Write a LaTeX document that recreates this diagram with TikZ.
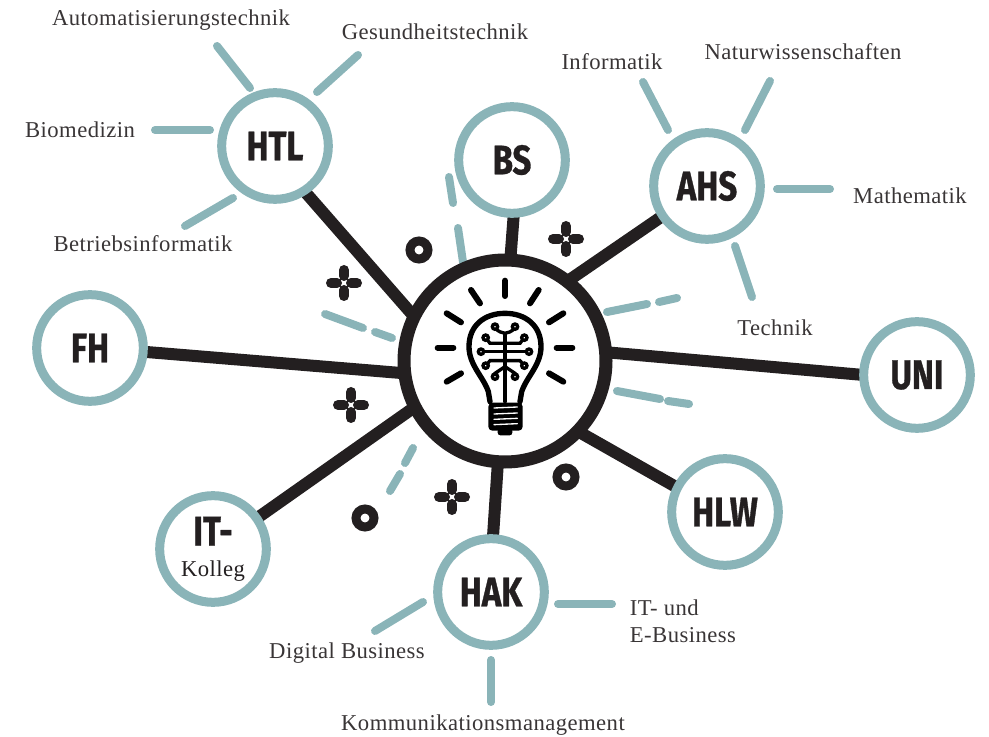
\documentclass[tikz,border=0pt]{standalone}
\usepackage{fontspec}
\setmainfont[LetterSpace=2]{Liberation Serif}
\newfontfamily\hubfont[FakeStretch=0.8,FakeBold=0.8]{Fira Sans}
\usetikzlibrary{backgrounds, positioning}
\definecolor{petrol}{RGB}{138,180,184}
\definecolor{ink}{RGB}{35,31,32}
\tikzstyle{hub} = [circle, minimum size = 80pt, inner sep = 0pt, outer sep = 0pt, draw = petrol, line width = 6.75pt, fill = white, text = ink, font = \hubfont\fontsize{31}{31}\selectfont\bfseries, align = center]
\tikzstyle{core} = [circle, minimum size = 151.5pt, inner sep = 0pt, outer sep = 0pt, draw = ink, line width = 9.75pt, fill = white]
\tikzstyle{lab} = [text = ink!90, inner sep = 0pt, font = \fontsize{17}{20}\selectfont, align = left]
\tikzstyle{ray} = [petrol, line width = 6pt, line cap = round]
\tikzstyle{spoke} = [ink, line width = 9pt]
\tikzstyle{ring} = [circle, minimum size = 13.5pt, inner sep = 0pt, draw = ink, line width = 6.75pt]
\tikzset{clover/.pic = {
  \draw[ink, line width = 7.5pt, line cap = round] (-13,0) -- (-7,0) (13,0) -- (7,0) (0,-13) -- (0,-7) (0,13) -- (0,7);
}}

\begin{document}
\begin{tikzpicture}[x = 0.75pt, y = -0.75pt]
\useasboundingbox (0,0) rectangle (989,737);

% hubs
\node (bulb) [core] at (505,361) {};
\node (htl) [hub] at (275,146) {HTL};
\node (bs)  [hub] at (512,160) {BS};
\node (ahs) [hub] at (707,186) {AHS};
\node (fh)  [hub] at (90,348)  {FH};
\node (uni) [hub] at (917,375) {UNI};
\node (hlw) [hub] at (725,512) {HLW};
\node (hak) [hub] at (491,592) {HAK};
\node (it)  [hub] at (213,549) {IT-\\[-8pt]{\rmfamily\mdseries\fontsize{17}{17}\selectfont Kolleg}};

% labels
\node (auto) [lab] at (171,20)  {Automatisierungstechnik};
\node (ges)  [lab] at (435,32)  {Gesundheitstechnik};
\node (bio)  [lab] at (80,130)  {Biomedizin};
\node (bet)  [lab] at (143,244) {Betriebsinformatik};
\node (inf)  [lab] at (612,62)  {Informatik};
\node (nat)  [lab] at (803,52)  {Naturwissenschaften};
\node (mat)  [lab] at (910,196) {Mathematik};
\node (tec)  [lab] at (775,328) {Technik};
\node (ebu)  [lab] at (683,621) {IT- und\\E-Business};
\node (dig)  [lab] at (347,653) {Digital Business};
\node (kom)  [lab] at (483,725) {Kommunikationsmanagement};

% decoration
\node (ring1) [ring] at (419,250) {};
\node (ring2) [ring] at (566,477) {};
\node (ring3) [ring] at (365,518) {};
\pic at (344,283) {clover};
\pic at (351,405) {clover};
\pic at (452,497) {clover};
\pic at (566,239) {clover};

\begin{scope}[on background layer]
\draw[spoke] (htl.-57) -- (bulb.154);
\draw[spoke] (bs.272)  -- (bulb.87);
\draw[spoke] (ahs.214) -- (bulb.52);
\draw[spoke] (fh.-4)   -- (bulb.187);
\draw[spoke] (uni.180) -- (bulb.5);
\draw[spoke] (hlw.153) -- (bulb.-44);
\draw[spoke] (hak.88)  -- (bulb.266);
\draw[spoke] (it.35)   -- (bulb.207);

\foreach \n/\xa/\ya/\xb/\yb in {
  a/217/46/250/88, b/358/55/317/92, c/155/130/210/130, d/185/226/233/198,
  e/643/82/668/130, f/770/81/745/130, g/777/189/830/189, h/735/246/752/297,
  i/375/631/423/602, j/558/604/612/604, k/491/660/491/702,
  l/449/177/453/203, m/458/228/463/262, n/325/314/363/328, o/375/332/392/338,
  p/607/312/647/304, q/659/302/677/298, r/617/391/660/399, s/668/401/689/404,
  t/413/448/405/463, u/400/474/390/491} {
  \coordinate (\n1) at (\xa,\ya);
  \coordinate (\n2) at (\xb,\yb);
  \draw[ray] (\n1) -- (\n2);
}
\end{scope}

% lamp, in steps of a third of a pixel
\begin{scope}[shift = {(400,250)}, x = 0.25pt, y = -0.25pt, ink, line cap = round]
\foreach \xa/\ya/\xb/\yb in {315/92/315/138, 213/120/240/160, 416/120/390/160, 140/190/183/217, 490/190/447/217,
  113/293/160/293, 470/293/517/293, 140/395/183/370, 490/395/447/370}
  \draw[black, line width = 4.5pt] (\xa,\ya) -- (\xb,\yb);

\draw[black, line width = 4pt] (270,455) -- (265,425) .. controls (250,380) and (207,345) .. (207,290) .. controls (207,225) and (255,190) .. (315,190) .. controls (375,190) and (423,225) .. (423,290) .. controls (423,345) and (380,380) .. (365,425) -- (360,455);

\draw[black, line width = 2.5pt] (315,250) -- (315,455);
\draw[black, line width = 2.5pt] (285,230) .. controls (295,250) and (305,245) .. (315,250) .. controls (325,245) and (335,250) .. (345,230);
\draw[black, line width = 2.5pt] (257,263) -- (270,280) -- (360,280) -- (373,263);
\draw[black, line width = 2.5pt] (243,305) -- (387,305);
\draw[black, line width = 2.5pt] (257,347) -- (270,332) -- (360,332) -- (373,347);
\draw[black, line width = 2.5pt] (285,380) -- (285,370) -- (315,350) -- (345,370) -- (345,380);
\foreach \xa/\ya in {285/230, 345/230, 257/263, 373/263, 243/305, 387/305, 257/347, 373/347, 285/380, 345/380}
  \filldraw[black, fill = white, line width = 2.5pt] (\xa,\ya) circle (8);

\fill[black, rounded corners = 3pt] (265,458) rectangle (368,542);
\fill[black, rounded corners = 2pt] (293,535) rectangle (337,556);
\foreach \ya in {474, 492, 508, 524}
  \draw[white, line width = 1pt] (282,\ya) -- (352,\ya-3);
\end{scope}

\end{tikzpicture}
\end{document}
